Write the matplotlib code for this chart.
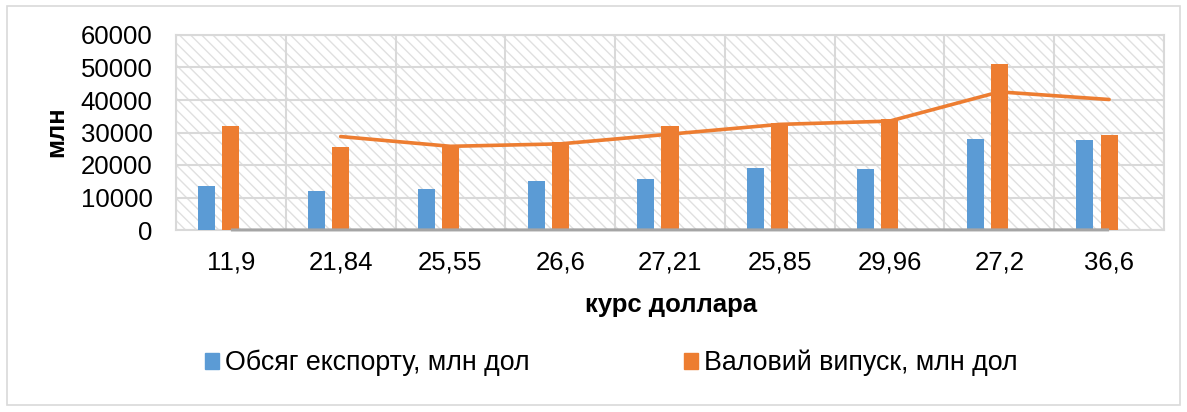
import matplotlib
matplotlib.use('Agg')
from matplotlib import pyplot as plt
from matplotlib.patches import Rectangle, Patch
import numpy as np

plt.rcParams['font.family'] = ['Liberation Sans', 'DejaVu Sans']
plt.rcParams['hatch.linewidth'] = 1.0

# data
rate_labels = ['11,9', '21,84', '25,55', '26,6', '27,21', '25,85', '29,96', '27,2', '36,6']
rate = [11.9, 21.84, 25.55, 26.6, 27.21, 25.85, 29.96, 27.2, 36.6]
export = [13500, 12000, 12700, 15000, 15600, 19000, 18800, 28000, 27700]
output = [32000, 25500, 26000, 27000, 32000, 33000, 34000, 51000, 29300]

blue = '#5b9bd5'
orange = '#ed7d31'
gray = '#a5a5a5'
grid_c = '#d9d9d9'

W, H = 1187, 412
fig = plt.figure(figsize=(W / 100, H / 100), dpi=100)
# outer chart border
fig.patches.append(Rectangle((7 / W, 1 - 405 / H), (1180 - 7) / W, (405 - 6) / H,
                             transform=fig.transFigure, fill=False,
                             edgecolor=grid_c, linewidth=1.2))

left, right, top, bottom = 176, 1164, 35, 230
ax = fig.add_axes([left / W, 1 - bottom / H, (right - left) / W, (bottom - top) / H])

# hatched plot-area background
ax.add_patch(Rectangle((0, 0), 1, 1, transform=ax.transAxes, facecolor='white',
                       edgecolor='#e0e0e0', hatch='\\\\\\', linewidth=0, zorder=0))

x = np.arange(len(rate_labels))
bw = 0.155
ax.bar(x - 0.22, export, width=bw, color=blue, zorder=3, label='Обсяг експорту, млн дол')
ax.bar(x, output, width=bw, color=orange, zorder=3, label='Валовий випуск, млн дол')

# курс as a line (sits on the zero line)
ax.plot(x, rate, color=gray, linewidth=2.2, zorder=6, solid_capstyle='butt', clip_on=False)

# 2-period moving average trendline of gross output
ma = [(output[i - 1] + output[i]) / 2 for i in range(1, len(output))]
ax.plot(x[1:], ma, color=orange, linewidth=2.6, zorder=5, solid_capstyle='round')

ax.set_xlim(-0.5, len(x) - 0.5)
ax.set_ylim(0, 60000)
ax.set_yticks(np.arange(0, 60001, 10000))
ax.set_xticks(x)
ax.set_xticklabels(rate_labels)
ax.set_xticks(np.arange(-0.5, len(x), 1), minor=True)
ax.tick_params(axis='both', which='both', length=0, labelsize=18.5)
ax.tick_params(axis='y', pad=17)
ax.tick_params(axis='x', pad=15)
ax.grid(True, axis='y', color=grid_c, linewidth=1.5, zorder=1)
ax.grid(True, axis='x', which='minor', color=grid_c, linewidth=1.5, zorder=1)
ax.grid(False, axis='x', which='major')
for s in ax.spines.values():
    s.set_color(grid_c)
    s.set_linewidth(1.5)

fig.text(56 / W, 1 - 132 / H, 'млн', rotation=90, ha='center', va='center',
         fontsize=18.5, fontweight='bold')
fig.text(671 / W, 1 - 305 / H, 'курс доллара', ha='center', va='center',
         fontsize=18.5, fontweight='bold')

handles = [Patch(color=blue), Patch(color=orange)]
fig.legend(handles, ['Обсяг експорту, млн дол', 'Валовий випуск, млн дол'],
           loc='center', bbox_to_anchor=(611.5 / W, 1 - 363 / H), ncol=2,
           frameon=False, fontsize=19.3, handlelength=0.52, handleheight=0.52,
           handletextpad=0.23, columnspacing=5.75)

fig.savefig('out.png', dpi=100)
